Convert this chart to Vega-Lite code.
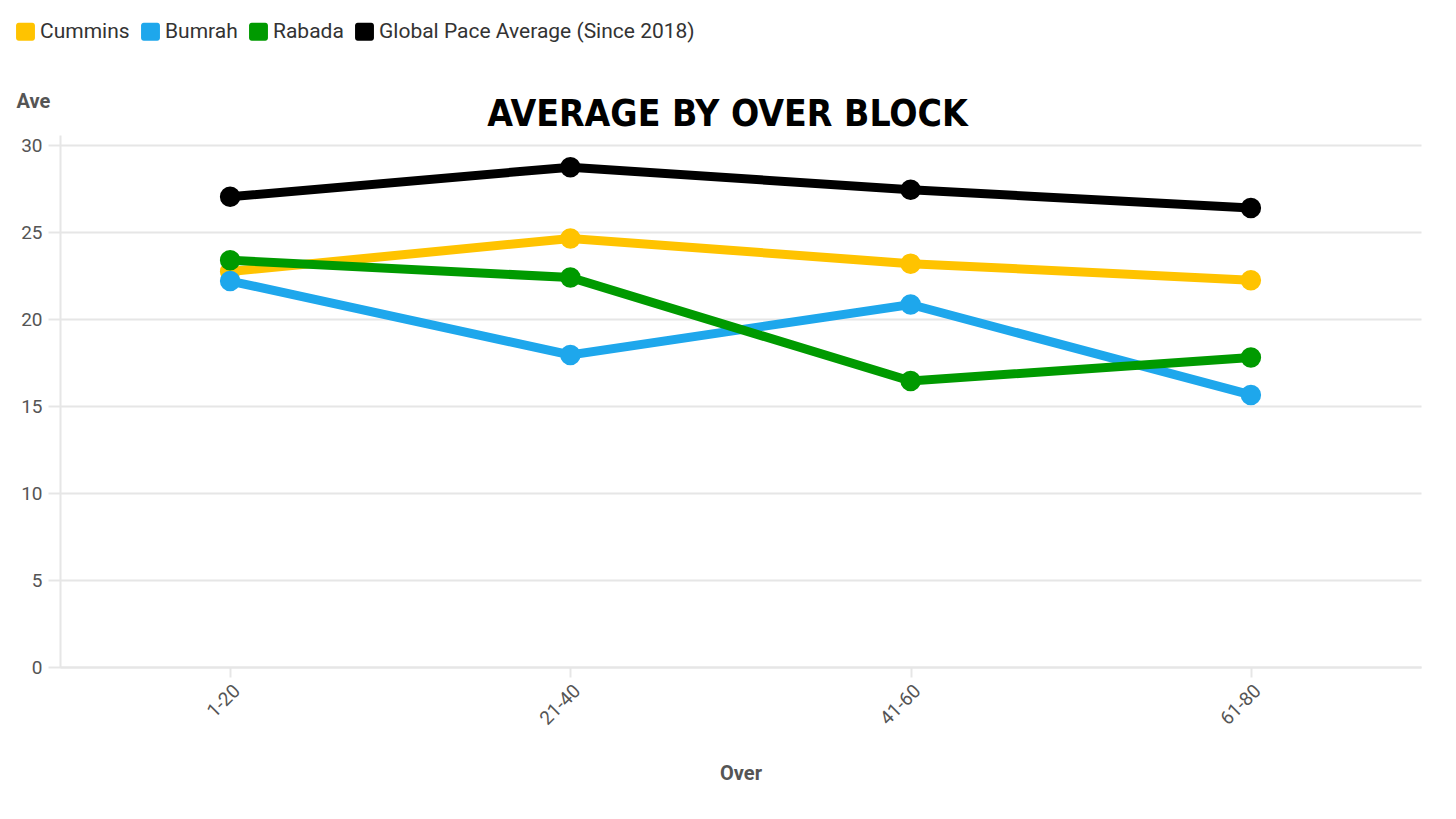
{
  "$schema": "https://vega.github.io/schema/vega-lite/v6.json",
  "width": 1361,
  "height": 532,
  "autosize": {"type": "none"},
  "padding": {"left": 60, "top": 135, "right": 35, "bottom": 152},
  "background": "white",
  "config": {
    "font": "Roboto",
    "view": {"stroke": null}
  },
  "title": {
    "text": "AVERAGE BY OVER BLOCK",
    "font": "DejaVu Sans Condensed",
    "fontWeight": "bold",
    "fontSize": 37,
    "color": "#000000",
    "anchor": "middle",
    "frame": "group",
    "dx": -13,
    "dy": 156,
    "offset": 6,
    "baseline": "bottom"
  },
  "data": {
    "values": [
      {"over": "1-20", "bowler": "Cummins", "ave": 22.75},
      {"over": "21-40", "bowler": "Cummins", "ave": 24.65},
      {"over": "41-60", "bowler": "Cummins", "ave": 23.2},
      {"over": "61-80", "bowler": "Cummins", "ave": 22.25},
      {"over": "1-20", "bowler": "Bumrah", "ave": 22.2},
      {"over": "21-40", "bowler": "Bumrah", "ave": 17.95},
      {"over": "41-60", "bowler": "Bumrah", "ave": 20.85},
      {"over": "61-80", "bowler": "Bumrah", "ave": 15.65},
      {"over": "1-20", "bowler": "Rabada", "ave": 23.4},
      {"over": "21-40", "bowler": "Rabada", "ave": 22.4},
      {"over": "41-60", "bowler": "Rabada", "ave": 16.45},
      {"over": "61-80", "bowler": "Rabada", "ave": 17.8},
      {"over": "1-20", "bowler": "Global Pace Average (Since 2018)", "ave": 27.05},
      {"over": "21-40", "bowler": "Global Pace Average (Since 2018)", "ave": 28.75},
      {"over": "41-60", "bowler": "Global Pace Average (Since 2018)", "ave": 27.45},
      {"over": "61-80", "bowler": "Global Pace Average (Since 2018)", "ave": 26.4}
    ]
  },
  "encoding": {
    "x": {
      "field": "over",
      "type": "ordinal",
      "scale": {"type": "point", "padding": 0.5},
      "sort": ["1-20", "21-40", "41-60", "61-80"],
      "axis": {
        "title": "Over",
        "titleFontSize": 20,
        "titleFontWeight": "bold",
        "titleColor": "#555555",
        "titlePadding": 35,
        "labelAngle": -45,
        "labelFontSize": 19,
        "labelColor": "#555555",
        "labelPadding": 4,
        "domainColor": "#e6e6e6",
        "domainWidth": 2,
        "tickColor": "#e6e6e6",
        "tickWidth": 2,
        "tickSize": 10,
        "grid": false
      }
    },
    "y": {
      "field": "ave",
      "type": "quantitative",
      "scale": {"domain": [0, 30.6], "nice": false},
      "axis": {
        "values": [0, 5, 10, 15, 20, 25, 30],
        "title": "Ave",
        "titleAngle": 0,
        "titleAlign": "left",
        "titleBaseline": "middle",
        "titleX": -44,
        "titleY": -34,
        "titleFontSize": 20,
        "titleFontWeight": "bold",
        "titleColor": "#555555",
        "labelFontSize": 19,
        "labelColor": "#555555",
        "labelPadding": 6,
        "domainColor": "#e6e6e6",
        "domainWidth": 2,
        "tickColor": "#e6e6e6",
        "tickWidth": 2,
        "tickSize": 12,
        "gridColor": "#e6e6e6",
        "gridWidth": 2
      }
    },
    "color": {
      "field": "bowler",
      "type": "nominal",
      "scale": {
        "domain": ["Cummins", "Bumrah", "Rabada", "Global Pace Average (Since 2018)"],
        "range": ["#ffc300", "#1ea7ec", "#009a00", "#000000"]
      },
      "legend": {
        "title": null,
        "orient": "none",
        "legendX": -45,
        "legendY": -114,
        "direction": "horizontal",
        "columns": 4,
        "columnPadding": 10,
        "labelFontSize": 21,
        "labelColor": "#333333",
        "labelOffset": 4,
        "labelLimit": 500,
        "symbolType": "M-0.75,-1 h1.5 a0.3,0.3 0 0 1 0.3,0.3 v1.4 a0.3,0.3 0 0 1 -0.3,0.3 h-1.5 a0.3,0.3 0 0 1 -0.3,-0.3 v-1.4 a0.3,0.3 0 0 1 0.3,-0.3 z",
        "symbolSize": 324,
        "symbolStrokeWidth": 0,
        "symbolOpacity": 1
      }
    }
  },
  "layer": [
    {
      "mark": {"type": "line", "strokeWidth": 9}
    },
    {
      "mark": {"type": "circle", "size": 420, "opacity": 1}
    }
  ]
}
